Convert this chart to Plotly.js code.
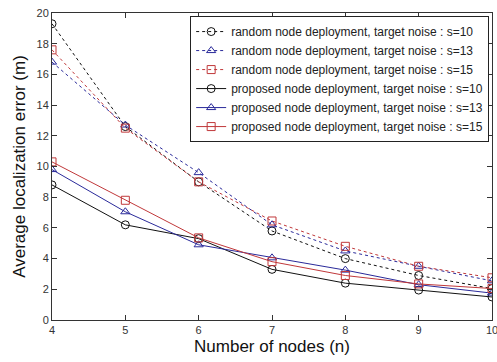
<!DOCTYPE html>
<html><head><meta charset="utf-8">
<script src="https://cdn.plot.ly/plotly-3.0.1.min.js"></script>
<style>html,body{margin:0;padding:0;background:#fff}#chart{width:497px;height:362px}</style>
</head><body><div id="chart"></div>
<script>
const nodes = [4, 5, 6, 7, 8, 9, 10];
const randomS10 = [19.3, 12.6, 9.0, 5.8, 4.0, 2.9, 2.05];
const randomS13 = [16.8, 12.7, 9.6, 6.2, 4.5, 3.5, 2.55];
const randomS15 = [17.6, 12.5, 9.0, 6.45, 4.8, 3.5, 2.75];
const propS10 = [8.8, 6.2, 5.3, 3.3, 2.4, 1.95, 1.5];
const propS13 = [9.8, 7.05, 4.9, 4.05, 3.25, 2.3, 1.75];
const propS15 = [10.3, 7.8, 5.35, 3.8, 2.9, 2.35, 2.05];
const names = [
  'random node deployment, target noise : s=10',
  'random node deployment, target noise : s=13',
  'random node deployment, target noise : s=15',
  'proposed node deployment, target noise : s=10',
  'proposed node deployment, target noise : s=13',
  'proposed node deployment, target noise : s=15'
];
const BLACK = '#111111', BLUE = '#2a2a9a', RED = '#c0383a';
function tr(y, name, color, symbol, dash) {
  return {x: nodes, y: y, name: name, type: 'scatter', mode: 'lines+markers',
    line: {color: color, width: 1, dash: dash},
    marker: {symbol: symbol, size: 8, color: color, line: {color: color, width: 1}}};
}
const data = [
  tr(randomS10, names[0], BLACK, 'circle-open', 'dot'),
  tr(randomS13, names[1], BLUE, 'triangle-up-open', 'dot'),
  tr(randomS15, names[2], RED, 'square-open', 'dot'),
  tr(propS10, names[3], BLACK, 'circle-open', 'solid'),
  tr(propS13, names[4], BLUE, 'triangle-up-open', 'solid'),
  tr(propS15, names[5], RED, 'square-open', 'solid')
];
const axBase = {showgrid: false, zeroline: false, showline: true, mirror: 'allticks',
  linecolor: '#333', linewidth: 1, ticks: 'inside', ticklen: 5, tickcolor: '#333',
  ticklabeloverflow: 'allow',
  tickfont: {family: 'Arial, Liberation Sans, sans-serif', size: 11, color: '#333'}};
const layout = {
  width: 497, height: 362, paper_bgcolor: '#fff', plot_bgcolor: '#fff',
  margin: {l: 52, r: 5, t: 13, b: 42},
  font: {family: 'Arial, Liberation Sans, sans-serif'},
  xaxis: Object.assign({}, axBase, {range: [4, 10], dtick: 1,
    title: {text: 'Number of nodes (n)', font: {size: 17, color: '#111'}, standoff: 4}}),
  yaxis: Object.assign({}, axBase, {range: [0, 20], dtick: 2,
    title: {text: 'Average localization error (m)', font: {size: 17, color: '#111'}, standoff: 6}}),
  legend: {x: 0.314, y: 0.99, xanchor: 'left', yanchor: 'top', bgcolor: '#fff',
    bordercolor: '#222', borderwidth: 1, font: {size: 12, color: '#222'},
    tracegroupgap: 0, itemwidth: 30},
  showlegend: true
};
Plotly.newPlot('chart', data, layout, {displayModeBar: false, staticPlot: true});
</script></body></html>
